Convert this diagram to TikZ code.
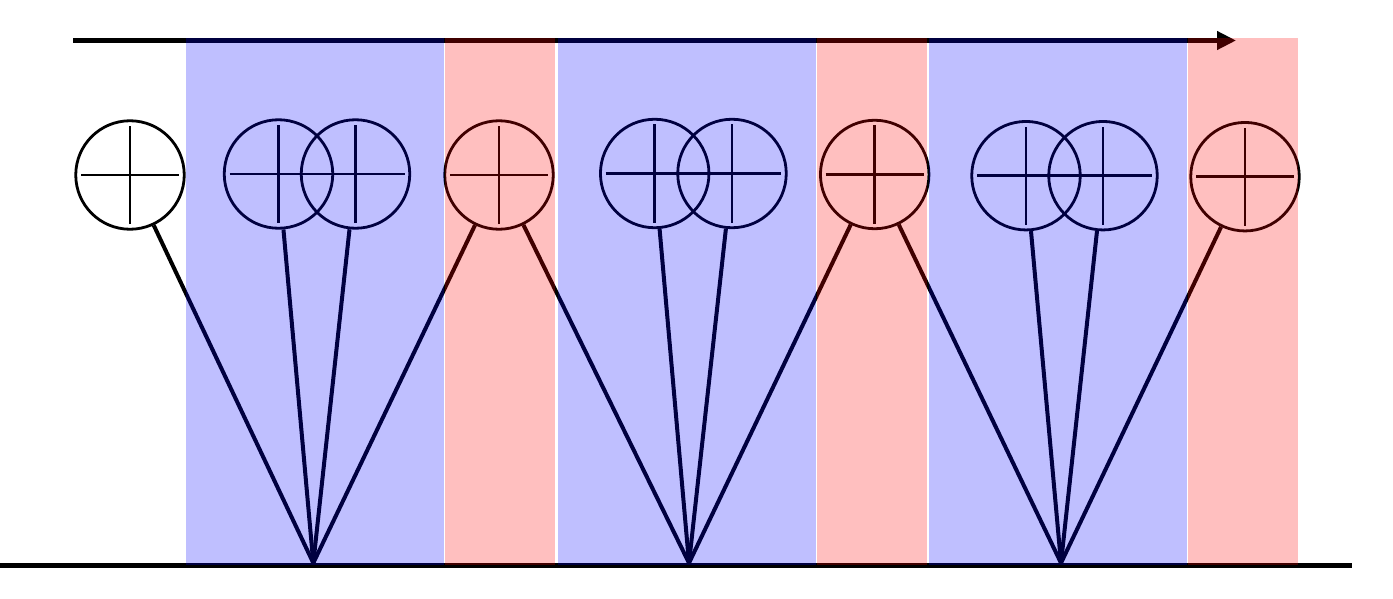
\documentclass[tikz,border=0pt]{standalone}
\usepackage{tikz}
\usetikzlibrary{arrows.meta}

\begin{document}
\begin{tikzpicture}[
    x=1pt,y=-1pt,
    adder/.style={circle,draw,line width=2.8pt,minimum size=108.5pt,inner sep=0pt,
      path picture={\draw[line width=2.8pt]
        ([xshift=-49pt]path picture bounding box.center) -- ([xshift=49pt]path picture bounding box.center)
        ([yshift=-49pt]path picture bounding box.center) -- ([yshift=49pt]path picture bounding box.center);}},
    link/.style={line width=4pt},
    axis/.style={line width=4.3pt},
    arr/.style={axis,-{Triangle[length=19pt,width=18pt]}},
    blueband/.style={fill=blue,fill opacity=0.25},
    redband/.style={fill=red,fill opacity=0.25},
  ]
    \useasboundingbox (0,0) rectangle (1393,599);

    % time axis and ground line
    \coordinate (tstart) at (73,40.5);
    \coordinate (tend) at (1236,40.5);
    \coordinate (gstart) at (0,565.3);
    \coordinate (gend) at (1352,565.3);
    \draw[arr] (tstart) -- (tend);
    \draw[axis,line width=5.3pt] (gstart) -- (gend);

    % summing nodes
    \node[adder] (s0) at (130,175) {};
    \node[adder] (a1) at (278.5,174) {};
    \node[adder] (b1) at (355.5,174) {};
    \node[adder] (r1) at (499,175) {};
    \node[adder] (a2) at (654.7,173.5) {};
    \node[adder] (b2) at (732,173.5) {};
    \node[adder] (r2) at (874.7,174.5) {};
    \node[adder] (a3) at (1026,175.7) {};
    \node[adder] (b3) at (1103,175.7) {};
    \node[adder] (r3) at (1245,176.7) {};

    % apexes on the ground line
    \coordinate (apex1) at (313.3,563);
    \coordinate (apex2) at (689,563);
    \coordinate (apex3) at (1061,563);

    \draw[link] (s0) -- (apex1);
    \draw[link] (a1) -- (apex1);
    \draw[link] (b1) -- (apex1);
    \draw[link] (r1) -- (apex1);
    \draw[link] (r1) -- (apex2);
    \draw[link] (a2) -- (apex2);
    \draw[link] (b2) -- (apex2);
    \draw[link] (r2) -- (apex2);
    \draw[link] (r2) -- (apex3);
    \draw[link] (a3) -- (apex3);
    \draw[link] (b3) -- (apex3);
    \draw[link] (r3) -- (apex3);

    % shaded bands on top
    \fill[blueband] (186,38) rectangle (444,564.7);
    \fill[redband] (445,38) rectangle (555,564.7);
    \fill[blueband] (558,38) rectangle (815.7,564.7);
    \fill[redband] (817,38) rectangle (927,564.7);
    \fill[blueband] (929,38) rectangle (1187,564.7);
    \fill[redband] (1188,38) rectangle (1298,564.7);
  \end{tikzpicture}
\end{document}
